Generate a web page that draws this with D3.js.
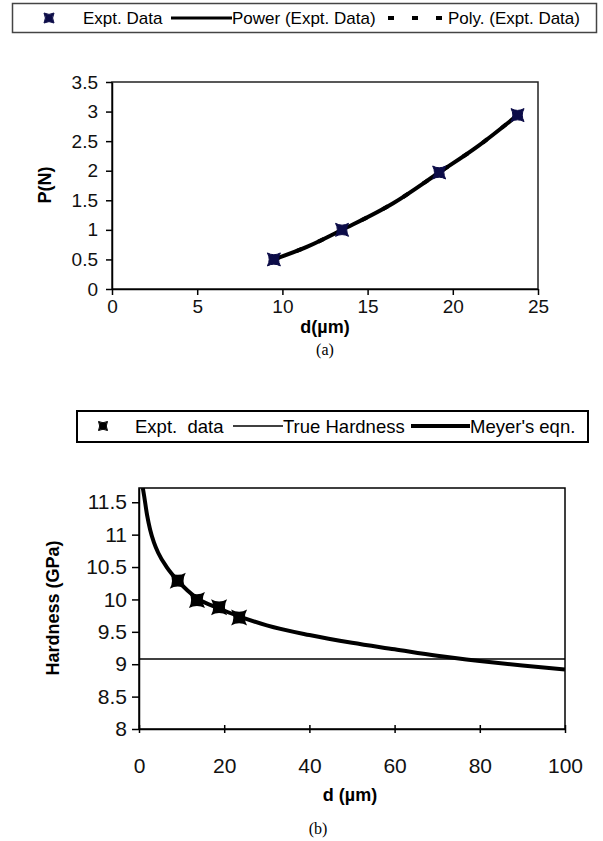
<!DOCTYPE html>
<html>
<head>
<meta charset="utf-8">
<script src="https://cdn.jsdelivr.net/npm/d3@7"></script>
<style>
body { margin: 0; background: #fff; }
svg { display: block; font-family: "Liberation Sans", Arial, sans-serif; }
.axis path, .axis line { stroke: #000; stroke-width: 1.5; }
.axis text { fill: #111; }
</style>
</head>
<body>
<svg width="603" height="841"></svg>
<script>
var svg = d3.select('svg');

// chart (a) data
var dA = [9.5, 13.5, 19.2, 23.8];
var pA = [0.5, 1, 1.97, 2.94];
// power trend line
var powerD = [9.5, 11.5, 13.5, 16.5, 19.2, 21.5, 23.8];
var powerP = [0.5, 0.72, 1, 1.45, 1.97, 2.42, 2.94];
var ticksXA = [0, 5, 10, 15, 20, 25];
var ticksYA = [0, 0.5, 1, 1.5, 2, 2.5, 3, 3.5];

// chart (b) data
var dB = [9.1, 13.6, 18.8, 23.5];
var hB = [10.29, 9.99, 9.88, 9.72];
var trueHardness = 9.08;
var meyerD = [0.9, 1.2, 1.9, 2.6, 3.5, 4.5, 6.5, 9.1, 13.6, 18.8, 23.5, 30, 40, 50, 60, 70, 80, 90, 100];
var meyerH = [11.72, 11.6, 11.3, 11.08, 10.88, 10.72, 10.5, 10.29, 10.02, 9.86, 9.74, 9.6, 9.45, 9.33, 9.23, 9.13, 9.05, 8.98, 8.92];
var ticksXB = [0, 20, 40, 60, 80, 100];
var ticksYB = [8, 8.5, 9, 9.5, 10, 10.5, 11, 11.5];

// concave square marker
function marker(h) {
  var k = h * 0.45;
  return 'M' + (-h) + ',' + (-h) + 'Q0,' + (-k) + ' ' + h + ',' + (-h) +
         'Q' + k + ',0 ' + h + ',' + h +
         'Q0,' + k + ' ' + (-h) + ',' + h +
         'Q' + (-k) + ',0 ' + (-h) + ',' + (-h) + 'Z';
}
var fmt = function(d){ return String(d); };

// ---------- legend (a)
var legA = svg.append('g');
legA.append('rect').attr('x', 12.5).attr('y', 3.5).attr('width', 584).attr('height', 29)
  .attr('fill', '#fff').attr('stroke', '#444').attr('stroke-width', 1.5);
legA.append('path').attr('d', marker(5)).attr('transform', 'translate(49,18)')
  .attr('fill', '#0c0c48').attr('stroke', '#0c0c48');
legA.append('text').text('Expt. Data').attr('x', 83).attr('y', 24).style('font-size', '17px');
legA.append('line').attr('x1', 171).attr('x2', 232).attr('y1', 18).attr('y2', 18)
  .attr('stroke', '#000').attr('stroke-width', 3);
legA.append('text').text('Power (Expt. Data)').attr('x', 232).attr('y', 24).style('font-size', '17px');
legA.append('line').attr('x1', 388).attr('x2', 444).attr('y1', 18).attr('y2', 18)
  .attr('stroke', '#000').attr('stroke-width', 4).attr('stroke-dasharray', '6,18');
legA.append('text').text('Poly. (Expt. Data)').attr('x', 448).attr('y', 24).style('font-size', '17px');

// ---------- chart (a)
var xA = d3.scaleLinear().domain([0, 25]).range([112, 538]);
var yA = d3.scaleLinear().domain([0, 3.5]).range([289, 82]);

svg.append('rect').attr('x', 112).attr('y', 82).attr('width', 426).attr('height', 207)
  .attr('fill', 'none').attr('stroke', '#222').attr('stroke-width', 1.5);

svg.append('g').attr('class', 'axis').attr('transform', 'translate(0,289)')
  .call(d3.axisBottom(xA).tickValues(ticksXA).tickFormat(fmt).tickSize(6).tickSizeOuter(0).tickPadding(5))
  .selectAll('text').style('font-size', '19px');
svg.append('g').attr('class', 'axis').attr('transform', 'translate(112,0)')
  .call(d3.axisLeft(yA).tickValues(ticksYA).tickFormat(fmt).tickSize(6).tickSizeOuter(0).tickPadding(8))
  .selectAll('text').style('font-size', '19px');

svg.append('text').text('P(N)').attr('transform', 'translate(51,185)rotate(-90)')
  .style('text-anchor', 'middle').style('font-weight', 'bold').style('font-size', '18px');
svg.append('text').text('d(\u00b5m)').attr('x', 325).attr('y', 333)
  .style('text-anchor', 'middle').style('font-weight', 'bold').style('font-size', '18px');
svg.append('text').text('(a)').attr('x', 325).attr('y', 355)
  .style('text-anchor', 'middle').style('font-family', '"Liberation Serif", serif').style('font-size', '16px');

var powerLine = d3.line().x(function(d, i){ return xA(powerD[i]); })
  .y(function(d){ return yA(d); }).curve(d3.curveMonotoneX);
svg.append('path').attr('d', powerLine(powerP)).attr('fill', 'none')
  .attr('stroke', '#000').attr('stroke-width', 4).attr('stroke-dasharray', '6,18');
svg.append('path').attr('d', powerLine(powerP)).attr('fill', 'none')
  .attr('stroke', '#000').attr('stroke-width', 4);

svg.selectAll('.ptA').data(pA).enter().append('path').attr('class', 'ptA')
  .attr('d', marker(6.5))
  .attr('transform', function(d, i){ return 'translate(' + xA(dA[i]) + ',' + yA(d) + ')'; })
  .attr('fill', '#0c0c48').attr('stroke', '#0c0c48').attr('stroke-width', 1);

// ---------- legend (b)
var legB = svg.append('g');
legB.append('rect').attr('x', 77).attr('y', 411).attr('width', 511).attr('height', 31)
  .attr('fill', '#fff').attr('stroke', '#000').attr('stroke-width', 2);
legB.append('path').attr('d', marker(4.5)).attr('transform', 'translate(103,426)')
  .attr('fill', '#000').attr('stroke', '#000');
legB.append('text').text('Expt.\u00a0\u00a0data').attr('x', 135).attr('y', 432.5).style('font-size', '18.5px');
legB.append('line').attr('x1', 233).attr('x2', 283).attr('y1', 426).attr('y2', 426)
  .attr('stroke', '#000').attr('stroke-width', 1.5);
legB.append('text').text('True Hardness').attr('x', 283).attr('y', 432.5).style('font-size', '18.5px');
legB.append('line').attr('x1', 411).attr('x2', 470).attr('y1', 426).attr('y2', 426)
  .attr('stroke', '#000').attr('stroke-width', 4);
legB.append('text').text("Meyer's eqn.").attr('x', 470).attr('y', 432.5).style('font-size', '18.5px');

// ---------- chart (b)
var xB = d3.scaleLinear().domain([0, 100]).range([139, 565]);
var yB = d3.scaleLinear().domain([8, 11.72]).range([729, 488]);

svg.append('defs').append('clipPath').attr('id', 'clipB').append('rect')
  .attr('x', 139).attr('y', 488).attr('width', 426).attr('height', 241);

svg.append('rect').attr('x', 139).attr('y', 488).attr('width', 426).attr('height', 241)
  .attr('fill', 'none').attr('stroke', '#000').attr('stroke-width', 1.5);

var axB = svg.append('g').attr('class', 'axis').attr('transform', 'translate(0,729)')
  .call(d3.axisBottom(xB).tickValues(ticksXB).tickFormat(fmt).tickSize(4).tickSizeOuter(0).tickPadding(25));
axB.selectAll('.tick line').attr('y1', -4);
axB.selectAll('text').style('font-size', '21px');
svg.append('g').attr('class', 'axis').attr('transform', 'translate(139,0)')
  .call(d3.axisLeft(yB).tickValues(ticksYB).tickFormat(fmt).tickSize(7).tickSizeOuter(0).tickPadding(5))
  .selectAll('text').style('font-size', '21px');

svg.append('text').text('Hardness (GPa)').attr('transform', 'translate(59,608)rotate(-90)')
  .style('text-anchor', 'middle').style('font-weight', 'bold').style('font-size', '18px');
svg.append('text').text('d (\u00b5m)').attr('x', 350).attr('y', 801)
  .style('text-anchor', 'middle').style('font-weight', 'bold').style('font-size', '18px');
svg.append('text').text('(b)').attr('x', 318).attr('y', 834)
  .style('text-anchor', 'middle').style('font-family', '"Liberation Serif", serif').style('font-size', '16px');

var plotB = svg.append('g').attr('clip-path', 'url(#clipB)');
plotB.append('line').attr('x1', xB(0)).attr('x2', xB(100))
  .attr('y1', yB(trueHardness)).attr('y2', yB(trueHardness))
  .attr('stroke', '#000').attr('stroke-width', 1.5);

var meyerLine = d3.line().x(function(d, i){ return xB(meyerD[i]); })
  .y(function(d){ return yB(d); }).curve(d3.curveMonotoneX);
plotB.append('path').attr('d', meyerLine(meyerH)).attr('fill', 'none')
  .attr('stroke', '#000').attr('stroke-width', 4);

svg.selectAll('.ptB').data(hB).enter().append('path').attr('class', 'ptB')
  .attr('d', marker(8))
  .attr('transform', function(d, i){ return 'translate(' + xB(dB[i]) + ',' + yB(d) + ')'; })
  .attr('fill', '#000');
</script>
</body>
</html>
